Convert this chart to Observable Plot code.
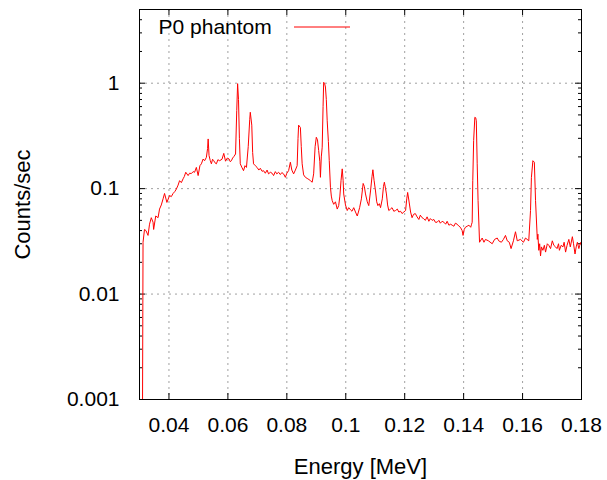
<!DOCTYPE html>
<html>
<head>
<meta charset="utf-8">
<script src="https://cdn.jsdelivr.net/npm/d3@7"></script>
<script src="https://cdn.jsdelivr.net/npm/@observablehq/plot@0.6"></script>
<style>
  html, body { margin: 0; padding: 0; background: #fff; }
  #chart { width: 607px; height: 480px; }
  svg { font-family: "Liberation Sans", Arial, sans-serif; }
</style>
</head>
<body>
<div id="chart"></div>
<script>
const seriesName = "P0 phantom";
const xLabel = "Energy [MeV]";
const yLabel = "Counts/sec";
const xTicks = [0.04, 0.06, 0.08, 0.10, 0.12, 0.14, 0.16, 0.18];
const xTickLabels = ["0.04", "0.06", "0.08", "0.1", "0.12", "0.14", "0.16", "0.18"];
const yTicks = [0.001, 0.01, 0.1, 1];
const yTickLabels = ["0.001", "0.01", "0.1", "1"];
const yMinorTicks = [0.002,0.003,0.004,0.005,0.006,0.007,0.008,0.009,
                     0.02,0.03,0.04,0.05,0.06,0.07,0.08,0.09,
                     0.2,0.3,0.4,0.5,0.6,0.7,0.8,0.9,2,3,4,5];

const energy = [
0.0310,0.0312,0.0317,0.0322,0.0329,0.0334,0.0340,0.0346,0.0348,0.0355,0.0363,0.0368,0.0374,0.0380,0.0385,0.0393,
0.0402,0.0408,0.0414,0.0420,0.0425,0.0431,0.0436,0.0442,0.0448,0.0452,0.0457,0.0465,0.0470,0.0476,0.0482,0.0487,
0.0493,0.0499,0.0505,0.0510,0.0516,0.0521,0.0527,0.0531,0.0533,0.0536,0.0540,0.0544,0.0548,0.0552,0.0556,0.0561,
0.0566,0.0572,0.0580,0.0586,0.0592,0.0598,0.0604,0.0608,0.0612,0.0616,0.0620,0.0626,0.0630,0.0633,0.0636,0.0639,
0.0642,0.0647,0.0653,0.0658,0.0663,0.0669,0.0674,0.0676,0.0681,0.0684,0.0687,0.0693,0.0699,0.0705,0.0710,0.0716,
0.0721,0.0727,0.0733,0.0738,0.0744,0.0750,0.0755,0.0761,0.0766,0.0772,0.0778,0.0783,0.0789,0.0795,0.0800,0.0806,
0.0812,0.0817,0.0823,0.0829,0.0835,0.0838,0.0840,0.0846,0.0849,0.0852,0.0857,0.0863,0.0869,0.0875,0.0880,0.0886,
0.0891,0.0896,0.0900,0.0904,0.0908,0.0912,0.0914,0.0917,0.0920,0.0923,0.0925,0.0928,0.0931,0.0934,0.0937,0.0941,
0.0944,0.0948,0.0951,0.0954,0.0959,0.0965,0.0971,0.0976,0.0980,0.0984,0.0988,0.0991,0.0993,0.0999,0.1005,0.1010,
0.1016,0.1021,0.1027,0.1033,0.1039,0.1043,0.1047,0.1053,0.1059,0.1063,0.1067,0.1073,0.1078,0.1084,0.1089,0.1092,
0.1096,0.1101,0.1105,0.1109,0.1114,0.1118,0.1124,0.1128,0.1131,0.1135,0.1138,0.1142,0.1146,0.1152,0.1157,0.1163,
0.1169,0.1175,0.1180,0.1186,0.1191,0.1197,0.1203,0.1207,0.1210,0.1214,0.1220,0.1225,0.1230,0.1236,0.1242,0.1248,
0.1253,0.1259,0.1264,0.1270,0.1276,0.1282,0.1287,0.1293,0.1299,0.1304,0.1310,0.1316,0.1321,0.1327,0.1333,0.1339,
0.1344,0.1350,0.1356,0.1361,0.1367,0.1372,0.1378,0.1384,0.1389,0.1395,0.1398,0.1402,0.1406,0.1412,0.1418,0.1424,
0.1427,0.1429,0.1431,0.1434,0.1438,0.1441,0.1443,0.1446,0.1449,0.1454,0.1463,0.1469,0.1474,0.1484,0.1497,0.1505,
0.1514,0.1519,0.1528,0.1535,0.1542,0.1548,0.1555,0.1561,0.1569,0.1576,0.1582,0.1593,0.1603,0.1610,0.1621,0.1627,
0.1630,0.1635,0.1640,0.1644,0.1650,0.1652,0.1655,0.1658,0.1661,0.1664,0.1669,0.1674,0.1678,0.1684,0.1689,0.1695,
0.1701,0.1706,0.1712,0.1717,0.1722,0.1725,0.1731,0.1737,0.1741,0.1746,0.1751,0.1757,0.1762,0.1769,0.1773,0.1778,
0.1782,0.1786,0.1791,0.1794,0.1798,0.1800
];
const counts = [
0.0005,0.031,0.041,0.040,0.036,0.046,0.053,0.048,0.041,0.055,0.053,0.064,0.070,0.080,0.090,0.074,
0.086,0.084,0.090,0.094,0.099,0.108,0.119,0.114,0.124,0.130,0.143,0.133,0.140,0.139,0.145,0.143,
0.159,0.133,0.165,0.172,0.191,0.184,0.198,0.240,0.296,0.206,0.185,0.172,0.190,0.184,0.176,0.172,
0.188,0.184,0.190,0.216,0.182,0.195,0.191,0.180,0.184,0.195,0.201,0.213,0.55,0.99,0.70,0.30,
0.172,0.160,0.148,0.165,0.159,0.25,0.45,0.53,0.40,0.22,0.172,0.165,0.159,0.150,0.156,0.146,
0.148,0.140,0.150,0.138,0.143,0.140,0.133,0.145,0.138,0.143,0.136,0.142,0.138,0.128,0.140,0.148,
0.178,0.150,0.138,0.150,0.165,0.30,0.40,0.38,0.25,0.172,0.135,0.128,0.125,0.122,0.119,0.115,
0.138,0.25,0.307,0.29,0.23,0.18,0.128,0.20,0.247,0.60,1.02,1.00,0.92,0.70,0.44,0.28,
0.184,0.103,0.085,0.077,0.071,0.075,0.064,0.069,0.085,0.120,0.154,0.120,0.089,0.070,0.062,0.066,
0.063,0.061,0.066,0.060,0.055,0.060,0.066,0.080,0.112,0.105,0.089,0.075,0.069,0.095,0.130,0.151,
0.120,0.095,0.075,0.069,0.072,0.066,0.080,0.105,0.115,0.100,0.089,0.070,0.062,0.064,0.066,0.061,
0.062,0.064,0.060,0.061,0.058,0.060,0.062,0.080,0.092,0.078,0.060,0.053,0.057,0.058,0.054,0.051,
0.056,0.053,0.052,0.050,0.054,0.049,0.052,0.050,0.051,0.048,0.048,0.050,0.047,0.049,0.048,0.046,
0.049,0.045,0.046,0.045,0.044,0.047,0.046,0.044,0.043,0.040,0.036,0.041,0.043,0.044,0.045,0.043,
0.046,0.048,0.119,0.286,0.475,0.47,0.44,0.172,0.077,0.031,0.034,0.031,0.033,0.032,0.030,0.033,
0.034,0.032,0.031,0.033,0.036,0.032,0.031,0.027,0.032,0.039,0.032,0.033,0.031,0.034,0.032,0.062,
0.128,0.184,0.178,0.077,0.033,0.037,0.026,0.030,0.023,0.028,0.026,0.029,0.025,0.030,0.029,0.027,
0.032,0.029,0.028,0.027,0.030,0.026,0.029,0.028,0.031,0.025,0.029,0.033,0.028,0.035,0.030,0.024,
0.028,0.031,0.027,0.029,0.031,0.030
];

const data = energy.map((e, i) => ({e, c: counts[i]}));

const W = 607, H = 480;
const mL = 139, mR = 26, mT = 9, mB = 81;
const fw = W - mL - mR, fh = H - mT - mB;
const fs = 21;

const chart = Plot.plot({
  width: W, height: H,
  marginLeft: mL, marginRight: mR, marginTop: mT, marginBottom: mB,
  style: {fontFamily: '"Liberation Sans", Arial, sans-serif', fontSize: fs + "px", background: "#fff", overflow: "visible"},
  x: {domain: [0.03, 0.18], axis: null},
  y: {type: "log", domain: [0.001, 5], axis: null},
  marks: [
    Plot.ruleX(xTicks.slice(0, -1), {stroke: "#a0a0a0", strokeDasharray: "2,4", strokeWidth: 1}),
    Plot.ruleY(yTicks.slice(1), {stroke: "#a0a0a0", strokeDasharray: "2,4", strokeWidth: 1}),
    // inward major ticks
    Plot.ruleX(xTicks, {stroke: "#000", insetTop: fh - 6}),
    Plot.ruleX(xTicks, {stroke: "#000", insetBottom: fh - 6}),
    Plot.ruleY(yTicks, {stroke: "#000", insetRight: fw - 6}),
    Plot.ruleY(yTicks, {stroke: "#000", insetLeft: fw - 6}),
    Plot.ruleY(yMinorTicks, {stroke: "#000", insetRight: fw - 3}),
    Plot.ruleY(yMinorTicks, {stroke: "#000", insetLeft: fw - 3}),
    Plot.line(data, {x: "e", y: "c", stroke: "#ff0000", strokeWidth: 1, clip: true}),
    Plot.frame({stroke: "#000", strokeWidth: 1}),
    Plot.text(xTicks, {x: d => d, frameAnchor: "bottom", lineAnchor: "middle", dy: 26, text: (d, i) => xTickLabels[i], fill: "#000", fontSize: fs}),
    Plot.text(yTicks, {y: d => d, frameAnchor: "left", lineAnchor: "middle", dx: -20, textAnchor: "end", text: (d, i) => yTickLabels[i], fill: "#000", fontSize: fs}),
    Plot.text([xLabel], {frameAnchor: "bottom", lineAnchor: "middle", textAnchor: "middle", dy: 67, text: d => d, fill: "#000", fontSize: 22}),
    Plot.text([yLabel], {frameAnchor: "left", lineAnchor: "middle", textAnchor: "middle", dx: -117, rotate: -90, text: d => d, fill: "#000", fontSize: 22}),
    Plot.text([seriesName], {frameAnchor: "top-left", lineAnchor: "middle", dx: 19, dy: 18, textAnchor: "start", text: d => d, fill: "#000", fontSize: fs})
  ]
});

// legend sample line next to series name
const svg = d3.select(chart);
svg.append("line")
  .attr("x1", 294).attr("x2", 350)
  .attr("y1", 27).attr("y2", 27)
  .attr("stroke", "#ff0000").attr("stroke-width", 1);

document.getElementById("chart").appendChild(chart);
</script>
</body>
</html>
